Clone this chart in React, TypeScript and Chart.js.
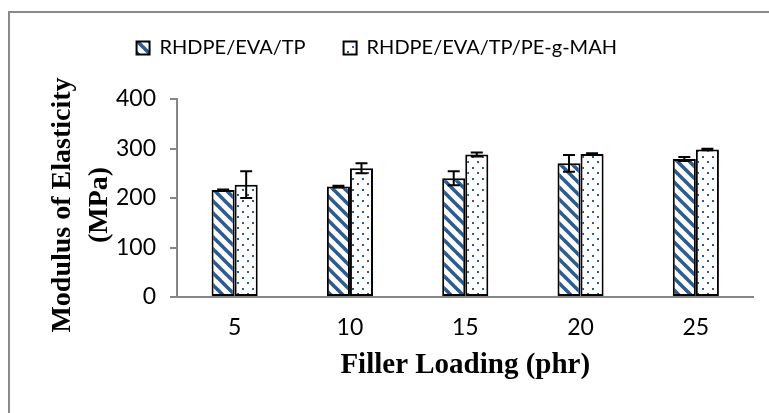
import { useEffect, useRef } from "react";
import { Chart, registerables } from "chart.js";

Chart.register(...registerables);

// Filler loading levels (phr)
const fillerLoading = ["5", "10", "15", "20", "25"];

// Modulus of elasticity (MPa) and standard deviations
const modulusTP = [216, 223, 240, 270, 279];
const errorTP = [1, 2, 14, 17, 4];
const modulusMAH = [227, 260, 288, 289, 298];
const errorMAH = [27, 10, 4, 1.5, 1.5];

const seriesNames = ["RHDPE/EVA/TP", "RHDPE/EVA/TP/PE-g-MAH"];
const yTitleLines = ["Modulus of Elasticity", "(MPa)"];
const xTitle = "Filler Loading (phr)";

const yMin = 0;
const yMax = 400;
const yStep = 100;

const BLUE = "#2f5b8c";
const TITLE_FONT = "bold 28px 'Liberation Serif'";

function makeStripePattern(ctx: CanvasRenderingContext2D) {
  const t = 12;
  const c = document.createElement("canvas");
  c.width = t;
  c.height = t;
  const g = c.getContext("2d")!;
  g.fillStyle = "#ffffff";
  g.fillRect(0, 0, t, t);
  g.strokeStyle = BLUE;
  g.lineWidth = 3.6;
  for (const dx of [-t, 0, t]) {
    g.beginPath();
    g.moveTo(dx - 2, -2);
    g.lineTo(dx + t + 2, t + 2);
    g.stroke();
  }
  return ctx.createPattern(c, "repeat")!;
}

function makeDotPattern(ctx: CanvasRenderingContext2D) {
  const w = 10;
  const h = 11;
  const c = document.createElement("canvas");
  c.width = w;
  c.height = h;
  const g = c.getContext("2d")!;
  g.fillStyle = "#ffffff";
  g.fillRect(0, 0, w, h);
  g.fillStyle = BLUE;
  g.fillRect(2, 2, 2, 2);
  g.fillRect(7, 7, 2, 2);
  return ctx.createPattern(c, "repeat")!;
}

// Draws symmetric error bars on top of each bar
const errorBarPlugin = {
  id: "errorBars",
  afterDatasetsDraw(chart: any) {
    const { ctx } = chart;
    const yScale = chart.scales.y;
    const errs = [errorTP, errorMAH];
    const vals = [modulusTP, modulusMAH];
    ctx.save();
    ctx.strokeStyle = "#000000";
    ctx.lineWidth = 2;
    chart.data.datasets.forEach((_: any, di: number) => {
      const meta = chart.getDatasetMeta(di);
      meta.data.forEach((bar: any, i: number) => {
        const v = vals[di][i];
        const e = errs[di][i];
        const x = bar.x;
        const yt = yScale.getPixelForValue(v + e);
        const yb = yScale.getPixelForValue(v - e);
        const cap = 6;
        ctx.beginPath();
        ctx.moveTo(x, yt);
        ctx.lineTo(x, yb);
        ctx.moveTo(x - cap, yt);
        ctx.lineTo(x + cap, yt);
        ctx.moveTo(x - cap, yb);
        ctx.lineTo(x + cap, yb);
        ctx.stroke();
      });
    });
    ctx.restore();
  },
};

// Two-line rotated title for the value axis
const yTitlePlugin = {
  id: "yTitle",
  afterDraw(chart: any) {
    const { ctx, chartArea } = chart;
    const cy = (chartArea.top + chartArea.bottom) / 2 + 7;
    const xs = [63, 100];
    ctx.save();
    ctx.font = TITLE_FONT;
    ctx.fillStyle = "#000000";
    ctx.textAlign = "center";
    ctx.textBaseline = "middle";
    yTitleLines.forEach((line, i) => {
      ctx.save();
      ctx.translate(xs[i], cy);
      ctx.rotate(-Math.PI / 2);
      ctx.fillText(line, 0, 0);
      ctx.restore();
    });
    ctx.restore();
  },
};

// Fixes the legend block height so the plot area starts below it
const legendHeightPlugin = {
  id: "legendHeight",
  beforeLayout(chart: any) {
    const lg = chart.legend;
    if (lg && !lg.__fixedHeight) {
      const fit = lg.fit;
      lg.fit = function () {
        fit.call(this);
        this.height = 99;
      };
      lg.__fixedHeight = true;
    }
  },
};

export default function App() {
  const canvasRef = useRef<HTMLCanvasElement | null>(null);

  useEffect(() => {
    const canvas = canvasRef.current!;
    const ctx = canvas.getContext("2d")!;
    const stripes = makeStripePattern(ctx);
    const dots = makeDotPattern(ctx);

    const chart = new Chart(canvas, {
      type: "bar",
      data: {
        labels: fillerLoading,
        datasets: [
          {
            label: seriesNames[0],
            data: modulusTP,
            backgroundColor: stripes,
            borderColor: "#000000",
            borderWidth: 2,
            borderSkipped: false,
            barPercentage: 1,
            categoryPercentage: 0.4,
          },
          {
            label: seriesNames[1],
            data: modulusMAH,
            backgroundColor: dots,
            borderColor: "#000000",
            borderWidth: 2,
            borderSkipped: false,
            barPercentage: 1,
            categoryPercentage: 0.4,
          },
        ],
      },
      options: {
        responsive: false,
        animation: false,
        devicePixelRatio: 1,
        layout: { padding: { left: 0, right: 15.5, top: 0, bottom: 0 } },
        plugins: {
          tooltip: { enabled: false },
          legend: {
            position: "top",
            labels: {
              color: "#000000",
              font: { family: "Lato", size: 20 },
              boxWidth: 13,
              boxHeight: 13,
              padding: 38,
            },
          },
        },
        scales: {
          x: {
            grid: { display: false, drawTicks: false },
            border: { display: true, color: "#868686", width: 2 },
            ticks: {
              color: "#000000",
              font: { family: "Lato", size: 23 },
              padding: 17,
            },
            title: {
              display: true,
              text: xTitle,
              color: "#000000",
              font: { family: "Liberation Serif", size: 29, weight: "bold" },
              padding: { top: 0, bottom: 30 },
            },
            afterFit(axis: any) {
              axis.height = 116;
            },
          },
          y: {
            min: yMin,
            max: yMax,
            grid: {
              display: true,
              drawOnChartArea: false,
              drawTicks: true,
              tickLength: 7,
              color: "#868686",
              lineWidth: 2,
            },
            border: { display: true, color: "#868686", width: 2 },
            ticks: {
              stepSize: yStep,
              color: "#000000",
              font: { family: "Lato", size: 23 },
              padding: 14,
            },
            title: { display: false },
            afterFit(axis: any) {
              axis.width = 177;
            },
          },
        },
      },
      plugins: [errorBarPlugin, legendHeightPlugin, yTitlePlugin],
    });

    return () => chart.destroy();
  }, []);

  return (
    <div
      style={{
        position: "fixed",
        left: 0,
        top: 0,
        width: "100vw",
        height: "100vh",
        overflow: "hidden",
        background: "#ffffff",
      }}
    >
      <div
        style={{
          position: "absolute",
          left: 8,
          top: 11,
          width: 900,
          height: 500,
          border: "2px solid #8a8a8a",
        }}
      />
      <canvas
        ref={canvasRef}
        width={769}
        height={413}
        style={{ position: "absolute", left: 0, top: 0, width: 769, height: 413 }}
      />
    </div>
  );
}
